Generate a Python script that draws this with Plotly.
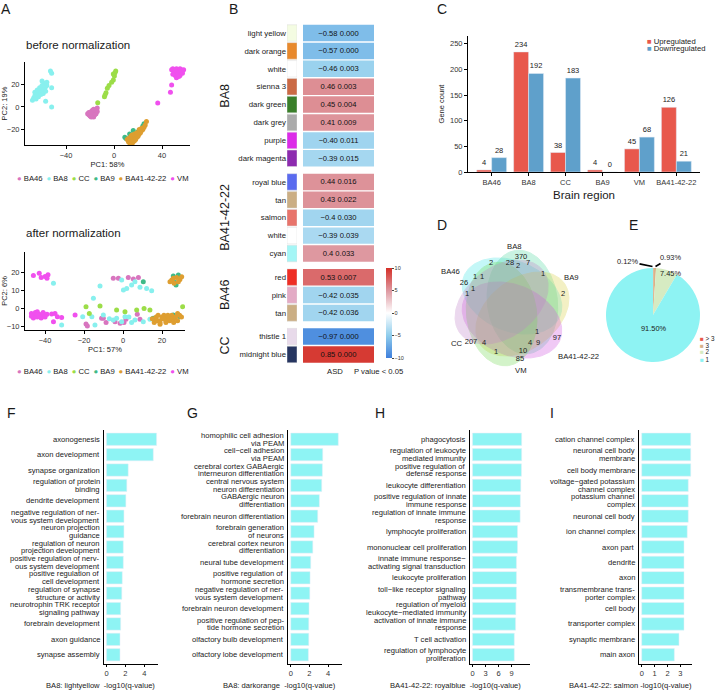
import numpy as np
import plotly.graph_objects as go

W, H = 718, 691
FONT = "Liberation Sans, Arial, Helvetica, sans-serif"
TXT = "#1a1a1a"
TICK = "#333333"


def fx(p):
    return p / W


def fy(p):
    return 1 - p / H


def xd(a, b):
    return [fx(a), fx(b)]


def yd(top, bottom):
    return [fy(bottom), fy(top)]


# ---------------- Panel A : PCA ----------------
pca_groups = ["BA46", "BA8", "CC", "BA9", "BA41-42-22", "VM"]
pca_colors = ["#D875BF", "#88F0EE", "#9CDD48", "#3FBA88", "#DE9E30", "#F050EE"]

before_BA46_x = [-21, -20, -19, -18, -17, -16, -15, -14, -20, -18, -17, -22, -19, -16, -15, -21, -18, -14, -19, -17]
before_BA46_y = [-5, -6, -7, -5, -6, -4, -3, -1, -8, -8, -9, -6, -4, -7, -6, -7, -3, -4, -9, -2]
before_BA8_x = [-68, -67, -66, -65, -64, -63, -62, -61, -60, -59, -58, -57, -56, -66, -64, -62, -60, -58, -65, -63,
                -61, -59, -57, -60, -56, -53, -52, -52, -52, -57]
before_BA8_y = [6, 8, 10, 9, 12, 11, 14, 13, 15, 16, 17, 18, 19, 13, 15, 17, 19, 21, 7, 9, 11, 12, 14, 23, 22, 32, 30,
                17, 0, 5]
before_CC_x = [-13.6, -8, -7.5, -6.7, -5.6, -4.2, -2, -0.6, 0.3, -0.6, 0.8, 1.4]
before_CC_y = [3.8, 9.2, 10.7, 12.7, 16.6, 19, 22, 24, 27.6, 29.3, 30.5, 32]
before_BA9_x = [9, 10, 12, 14, 18, 20, 24, 25, 13, 16]
before_BA9_y = [-27, -28, -29, -30, -25, -22, -17, -15, -24, -21]
before_BA41_x = [12, 13, 14, 15, 16, 14, 13, 15, 17, 18, 19, 20, 21, 22, 23, 24, 25, 26, 27, 16, 18, 20, 22, 12, 11, 15,
                 17, 19, 21, 23]
before_BA41_y = [-28, -30, -31, -29, -27, -26, -32, -33, -30, -28, -27, -25, -24, -22, -21, -20, -18, -16, -13, -31, -29,
                 -26, -23, -31, -29, -25, -24, -23, -20, -19]
before_VM_x = [48, 49, 50, 51, 52, 53, 54, 55, 56, 57, 50, 52, 54, 56, 51, 53, 55, 49, 57, 58, 52, 54, 48, 47, 36.4]
before_VM_y = [33, 34, 32, 33, 34, 33, 32, 34, 33, 32, 30, 31, 30, 31, 28, 29, 28, 29, 30, 33, 26, 27, 19.6, 13, 3.5]

after_BA46_x = [-5, -2.4, 2.7, 5.3, 7.9, -19, -18.3, -10.1, -8.7, -4.1, -1.5, 0.5, 1.5, 7.3, 8.7, -11]
after_BA46_y = [16.5, 16.5, 17, 16.1, 17, -8.9, -10, -5.7, -8.1, -7.6, -8.5, -8.1, -6.3, -3.5, -6.3, -5.7]
after_BA8_x = [-35.7, -11.8, -15.2, -16, -14.4, -31.5, -0.7, 0.2, 1.9, 4.4, 6.1, 8.7, 12.1, 14.7, -5, -3.3, -0.7, 1,
               4.4, 6.1, 10.4, 13.8, -10.1, -20.7, -7, 3]
after_BA8_y = [13.7, 12.2, 5.4, -4.8, -9.4, -9.4, 15.6, 10, 10.9, 12.8, 14.6, 11.5, 10.9, 9.6, -6.7, -5.7, -7.6, -4.8,
               -8.1, -6.7, -7.6, -6.3, -3.9, -4.8, -6, -5]
after_CC_x = [-19, -11.8, -3.3, 1, 7, 10.8, 13.8, 30.6, -17.3]
after_CC_y = [0.7, 1.1, -1.1, -2, -1.1, -0.2, -1.1, 0.7, -3]
after_BA9_x = [10.4, 25.8, 26.7, 28.4, 27.2, 15.5, 22.4, 25.8, 29.2]
after_BA9_y = [14.6, 17.8, 14.1, 18.3, 12.8, -5.7, -4.8, -3.9, -4.8]
after_BA41_x = [25, 25.8, 27.5, 29.2, 30.1, 26.2, 28.4, 24.1, 15, 16, 17, 18, 19, 20, 21, 22, 23, 24, 25, 26, 27, 28, 29,
                30, 18, 20, 22, 24, 26, 28, 17, 19, 21, 23]
after_BA41_y = [15.6, 16.5, 17, 15.9, 17.4, 13.7, 14.6, 14.6, -6, -8, -5, -7, -9, -6, -4, -8, -5, -7, -4, -6, -5, -7, -4,
                -5, -4, -5, -7, -6, -8, -3, -7, -8, -6, -4]
after_VM_x = [-47, -46, -45, -44, -43, -42, -41, -40, -39, -46, -44, -42, -40, -45, -43, -41, -47, -44, -46, -43, -42,
              -40, -39, -38.5, -36.6, -34.9, -33.7, -35.7, -31.5, -24.6]
after_VM_y = [-3, -4, -2.5, -5, -3.5, -4.5, -3, -4, -3.5, -5.5, -2, -5.5, -5, -4.5, -4.5, -2.5, -4.5, -3.5, 18, 19.3, 17,
              17.5, 16.5, 18.5, -3.3, -3, -4.8, -7.6, -5.2, -3.9]

before_pts = [(before_BA46_x, before_BA46_y), (before_BA8_x, before_BA8_y), (before_CC_x, before_CC_y),
              (before_BA9_x, before_BA9_y), (before_BA41_x, before_BA41_y), (before_VM_x, before_VM_y)]
after_pts = [(after_BA46_x, after_BA46_y), (after_BA8_x, after_BA8_y), (after_CC_x, after_CC_y),
             (after_BA9_x, after_BA9_y), (after_BA41_x, after_BA41_y), (after_VM_x, after_VM_y)]

# ---------------- Panel B : module table ----------------
module_names = ["light yellow", "dark orange", "white", "sienna 3", "dark green", "dark grey", "purple", "dark magenta",
                "royal blue", "tan", "salmon", "white", "cyan", "red", "pink", "tan", "thistle 1", "midnight blue"]
module_region = ["BA8"] * 8 + ["BA41-42-22"] * 5 + ["BA46"] * 3 + ["CC"] * 2
module_colors = ["#F4FCE2", "#E8892C", "#FFFFFF", "#CB6A45", "#3A7F2A", "#ABABAB", "#DC2BE8", "#8D2BAF", "#5A6BEF",
                 "#CBAE84", "#E8746B", "#FFFFFF", "#A4F6F6", "#EE2E24", "#E3ABC5", "#CBAE84", "#E8DAEA", "#263560"]
asd_labels = ["−0.58", "−0.57", "−0.46", "0.46", "0.45", "0.41", "−0.40", "−0.39", "0.44", "0.43", "−0.4", "−0.39",
              "0.4", "0.53", "−0.42", "−0.42", "−0.97", "0.85"]
p_labels = ["0.000", "0.000", "0.003", "0.003", "0.004", "0.009", "0.011", "0.015", "0.016", "0.022", "0.030", "0.039",
            "0.033", "0.007", "0.035", "0.036", "0.000", "0.000"]
color_score = [-6, -6, -4.5, 5.5, 5.5, 5.2, -4.3, -4, 5.3, 5.3, -4.2, -3.8, 5, 7.2, -4.2, -4.2, -9, 9.5]

# ---------------- Panel C : DE genes ----------------
c_regions = ["BA46", "BA8", "CC", "BA9", "VM", "BA41-42-22"]
c_up = [4, 234, 38, 4, 45, 126]
c_down = [28, 192, 183, 0, 68, 21]

# ---------------- Panel D : Venn ----------------
venn_sets = ["BA8", "BA9", "BA41-42-22", "VM", "CC", "BA46"]
venn_fill = ["#40E6E6", "#50D8A0", "#D8CF40", "#D050E0", "#70D850", "#C080C8"]
venn_counts = [370, 2, 28, 2, 7, 1, 2, 1, 1, 26, 1, 1, 1, 97, 4, 9, 10, 85, 207, 4, 1]
venn_count_pos = [(521, 257), (491, 263), (510, 263), (518, 266), (528, 263), (543, 274), (563, 294), (475, 277),
                  (482, 277), (464, 283), (473, 289), (467, 294), (537, 332), (557, 338), (530, 343), (538, 343),
                  (523, 351), (520, 359), (471, 342), (484, 343), (496, 352)]

# ---------------- Panel E : pie ----------------
pie_labels = ["> 3", "3", "2", "1"]
pie_values = [0.12, 0.93, 7.45, 91.50]
pie_colors = ["#E8574B", "#D9B28A", "#D6EBC2", "#8EF3F3"]

# ---------------- Panels F-I : GO enrichment ----------------
F_terms = ["axonogenesis", "axon development", "synapse organization", "regulation of protein<br>binding",
           "dendrite development", "negative regulation of ner-<br>vous system development",
           "neuron projection<br>guidance", "regulation of neuron<br>projection development",
           "positive regulation of nerv-<br>ous system development", "positive regulation of<br>cell development",
           "regulation of synapse<br>structure or activity", "neurotrophin TRK receptor<br>signaling pathway",
           "forebrain development", "axon guidance", "synapse assembly"]
F_vals = [5.3, 4.95, 2.3, 2.15, 2.05, 1.85, 1.85, 1.78, 1.78, 1.67, 1.62, 1.5, 1.5, 1.43, 1.43]
G_terms = ["homophilic cell adhesion<br>via PEAM", "cell−cell adhesion<br>via PEAM",
           "cerebral cortex GABAergic<br>interneuron differentiation", "central nervous system<br>neuron differentiation",
           "GABAergic neuron<br>differentiation", "forebrain neuron differentiation", "forebrain generation<br>of neurons",
           "cerebral cortex neuron<br>differentiation", "neural tube development",
           "positive regulation of<br>hormone secretion", "negative regulation of ner-<br>vous system development",
           "forebrain neuron development", "positive regulation of pep-<br>tide hormone secretion",
           "olfactory bulb development", "olfactory lobe development"]
G_vals = [5.1, 3.43, 3.39, 3.32, 3.07, 2.89, 2.5, 2.36, 2.14, 2.07, 2.04, 1.96, 1.93, 1.93, 1.89]
H_terms = ["phagocytosis", "regulation of leukocyte<br>mediated immunity", "positive regulation of<br>defense response",
           "leukocyte differentiation", "positive regulation of innate<br>immune response",
           "regulation of innate immune<br>response", "lymphocyte proliferation", "mononuclear cell proliferation",
           "innate immune response−<br>activating signal transduction", "leukocyte proliferation",
           "toll−like receptor signaling<br>pathway", "regulation of myeloid<br>leukocyte−mediated immunity",
           "activation of innate immune<br>response", "T cell activation", "regulation of lymphocyte<br>proliferation"]
H_vals = [11.35, 11.35, 11.3, 11.15, 11.05, 11.0, 10.4, 10.4, 10.15, 10.15, 10.15, 10.0, 9.95, 9.65, 9.65]
I_terms = ["cation channel complex", "neuronal cell body<br>membrane", "cell body membrane",
           "voltage−gated potassium<br>channel complex", "potassium channel<br>complex", "neuronal cell body",
           "ion channel complex", "axon part", "dendrite", "axon", "transmembrane trans-<br>porter complex", "cell body",
           "transporter complex", "synaptic membrane", "main axon"]
I_vals = [3.8, 3.8, 3.8, 3.61, 3.61, 3.61, 3.53, 3.28, 3.28, 3.28, 3.28, 3.28, 3.28, 2.89, 2.53]
go_titles = ["BA8: lightyellow\u00a0\u00a0-log10(q-value)", "BA8: darkorange\u00a0\u00a0-log10(q-value)",
             "BA41-42-22: royalblue\u00a0\u00a0-log10(q-value)", "BA41-42-22: salmon -log10(q-value)"]
GO_CYAN = "#8EF4F4"

# ======================================================================
fig = go.Figure()
annotations = []


def ann(text, x, y, size=7.7, xanchor="center", yanchor="middle", angle=0, xref="paper", yref="paper", **kw):
    a = dict(text=text, x=fx(x) if xref == "paper" else x, y=fy(y) if yref == "paper" else y, xref=xref, yref=yref,
             showarrow=False, xanchor=xanchor, yanchor=yanchor, textangle=angle,
             font=dict(family=FONT, size=size, color=TXT))
    a.update(kw)
    annotations.append(a)
    return a


def axis(domain, **kw):
    d = dict(domain=domain, showline=True, linecolor="black", linewidth=1, ticks="outside", ticklen=3, tickwidth=1,
             tickcolor="black", showgrid=False, zeroline=False, automargin=False,
             tickfont=dict(family=FONT, size=7.5, color=TICK))
    d.update(kw)
    return d


# ---- Panel A traces
for (gx, gy), col in zip(before_pts, pca_colors):
    fig.add_trace(go.Scatter(x=gx, y=gy, mode="markers", marker=dict(size=5, color=col), xaxis="x", yaxis="y",
                             showlegend=False, hoverinfo="skip"))
for (gx, gy), col in zip(after_pts, pca_colors):
    fig.add_trace(go.Scatter(x=gx, y=gy, mode="markers", marker=dict(size=5, color=col), xaxis="x2", yaxis="y2",
                             showlegend=False, hoverinfo="skip"))

legend_txt = "\u2002".join(f"<span style='color:{c}'>●</span> {g}" for g, c in zip(pca_groups, pca_colors))
ann(legend_txt, 103, 179, size=7.7)
ann(legend_txt, 103, 371, size=7.7)
ann("before normalization", 24, 45, size=11.5, xanchor="left")
ann("after normalization", 24, 233, size=11.5, xanchor="left")

# ---- Panel B traces
GAP = 0.32
row_pos = []
cur = 0.0
prev = None
for r in module_region:
    if prev is not None:
        cur += 1 + (GAP if r != prev else 0)
    row_pos.append(cur)
    prev = r
ROW_PX = 17.9
b_top = 33 - 0.5 * ROW_PX
b_bottom = b_top + (row_pos[-1] + 1) * ROW_PX

fig.add_trace(go.Bar(orientation="h", x=[1] * len(module_names), y=row_pos, base=0, width=0.92,
                     marker=dict(color=module_colors, line=dict(color="#dddddd", width=0.5)),
                     xaxis="x3", yaxis="y3", showlegend=False, hoverinfo="skip"))
cell_text = [f"{a} {p}" for a, p in zip(asd_labels, p_labels)]
fig.add_trace(go.Bar(orientation="h", x=[1] * len(module_names), y=row_pos, base=0, width=0.92,
                     marker=dict(color=color_score, cmin=-10, cmax=10,
                                 colorscale=[[0, "#3F7FDC"], [0.25, "#8FCDEC"], [0.5, "#FFFFFF"], [0.75, "#DE98A0"],
                                             [1, "#D52F27"]],
                                 line=dict(width=0),
                                 showscale=True,
                                 colorbar=dict(x=fx(386), xanchor="left", y=fy(313), yanchor="middle",
                                               lenmode="pixels", len=90, thickness=6, xpad=0, ypad=0,
                                               outlinewidth=0, tickvals=[-10, -5, 0, 5, 10], ticks="outside",
                                               ticklen=2, tickfont=dict(family=FONT, size=5.5, color=TICK))),
                     text=cell_text, textposition="inside", insidetextanchor="middle", textangle=0,
                     textfont=dict(family=FONT, size=7.6, color="#111"),
                     xaxis="x4", yaxis="y3", showlegend=False, hoverinfo="skip"))
for reg in ["BA8", "BA41-42-22", "BA46", "CC"]:
    ps = [p for p, r in zip(row_pos, module_region) if r == reg]
    a = ann(reg, 225, 0, size=12.5, angle=-90, yref="y3")
    a["y"] = float(np.mean(ps))
ann("ASD", 335, 372, size=7.7)
ann("P value < 0.05", 378, 372, size=7.7)

# ---- Panel C traces
C_RED, C_BLUE = "#E8584C", "#5FA0CB"
fig.add_trace(go.Bar(x=c_regions, y=c_up, name="Upregulated", marker_color=C_RED, text=c_up,
                     textposition="outside", cliponaxis=False, textfont=dict(family=FONT, size=7.5, color=TXT),
                     xaxis="x5", yaxis="y5", showlegend=False, hoverinfo="skip"))
fig.add_trace(go.Bar(x=c_regions, y=c_down, name="Downregulated", marker_color=C_BLUE, text=c_down,
                     textposition="outside", cliponaxis=False, textfont=dict(family=FONT, size=7.5, color=TXT),
                     xaxis="x5", yaxis="y5", showlegend=False, hoverinfo="skip"))
for i, (lab, col) in enumerate([("Upregulated", C_RED), ("Downregulated", C_BLUE)]):
    ann(f"<span style='color:{col}'>■</span> {lab}", 645, 41 + 8 * i, size=7.7, xanchor="left")

# ---- Panel D : Venn
cx0, cy0 = 512, 308
tt = np.linspace(0, 2 * np.pi, 160)
for k, (nm, col) in enumerate(zip(venn_sets, venn_fill)):
    d = np.deg2rad(-90 + 60 * k)
    ccx, ccy = cx0 + 12 * np.cos(d), cy0 + 12 * np.sin(d)
    rot = d + np.pi / 2 + 0.4
    ex, ey = 52 * np.cos(tt), 35 * np.sin(tt)
    X = ccx + ex * np.cos(rot) - ey * np.sin(rot)
    Y = ccy + ex * np.sin(rot) + ey * np.cos(rot)
    fig.add_trace(go.Scatter(x=X, y=Y, mode="lines", fill="toself", fillcolor=col, opacity=0.3,
                             line=dict(color=col, width=1), xaxis="x6", yaxis="y6", showlegend=False,
                             hoverinfo="skip"))
fig.add_trace(go.Scatter(x=[p[0] for p in venn_count_pos], y=[p[1] for p in venn_count_pos], mode="text",
                         text=[str(c) for c in venn_counts], textfont=dict(family=FONT, size=7.5, color="#222"),
                         xaxis="x6", yaxis="y6", showlegend=False, hoverinfo="skip"))
venn_label_pos = [(514, 246), (571, 277), (578, 357), (521, 370), (457, 343), (450, 271)]
for nm, (lx, ly) in zip(venn_sets, venn_label_pos):
    ann(nm, lx, ly, size=7.7)

# ---- Panel E : pie
fig.add_trace(go.Pie(labels=pie_labels, values=pie_values, sort=False, direction="clockwise", rotation=0,
                     marker=dict(colors=pie_colors, line=dict(width=0)), textinfo="none",
                     domain=dict(x=xd(606, 700), y=yd(268, 362)), showlegend=False, hoverinfo="skip"))
pct = [f"{v:.2f}%" for v in pie_values]
ann(pct[3], 653, 328, size=7.4)
ann(pct[2], 670, 273, size=7.4)
annotations.append(dict(text=pct[0], x=fx(652.5), y=fy(266.5), xref="paper", yref="paper", showarrow=True,
                        arrowhead=0, arrowwidth=1.6, arrowcolor="black", ax=-25, ay=-5,
                        font=dict(family=FONT, size=7.4, color=TXT)))
annotations.append(dict(text=pct[1], x=fx(655.5), y=fy(266.5), xref="paper", yref="paper", showarrow=True,
                        arrowhead=0, arrowwidth=1.6, arrowcolor="black", ax=15, ay=-9,
                        font=dict(family=FONT, size=7.4, color=TXT)))
for i, (lab, col) in enumerate(zip(pie_labels, pie_colors)):
    ann(f"<span style='color:{col}'>■</span> {lab}", 698, 338 + 7 * i, size=6.3, xanchor="left")

# ---- Panels F-I
GO_TOP, GO_BOT = 430, 664
go_panels = [(F_terms, F_vals, "x7", "y7", 104), (G_terms, G_vals, "x8", "y8", 288),
             (H_terms, H_vals, "x9", "y9", 470), (I_terms, I_vals, "x10", "y10", 639)]
for terms, vals, xa, ya, axis_x in go_panels:
    fig.add_trace(go.Bar(orientation="h", x=vals, y=list(range(len(terms))), width=0.8, marker_color=GO_CYAN,
                         xaxis=xa, yaxis=ya, showlegend=False, hoverinfo="skip"))
    px_per_unit = (GO_BOT - GO_TOP) / (len(terms) + 0.2)
    line_step = 7.7 / px_per_unit
    for i, term in enumerate(terms):
        lines = term.split("<br>")
        n = len(lines)
        for j, ln in enumerate(lines):
            a = ann(ln, axis_x - 3, 0, size=7.6, xanchor="right", yref=ya, borderpad=0)
            a["y"] = i + (j - (n - 1) / 2) * line_step
            a["font"]["color"] = "#222"
for t, cx in zip(go_titles, [100, 279, 456, 630]):
    ann(t, cx, 685, size=7.6)

# panel letters
for letter, (lx, ly) in zip("ABCDEFGHI", [(6, 9), (233, 9), (442, 9), (442, 225), (633, 225), (11, 413),
                                          (192, 413), (380, 413), (552, 413)]):
    ann(letter, lx, ly, size=14)

# ======================================================================
ttl = lambda s, st=2: dict(text=s, font=dict(family=FONT, size=7.5, color=TXT), standoff=st)
go_y = lambda dom, terms: axis(dom, range=[len(terms) - 0.4, -0.6], tickvals=list(range(len(terms))),
                                showticklabels=False, ticks="")

layout = dict(
    width=W, height=H, margin=dict(l=0, r=0, t=0, b=0), paper_bgcolor="white", plot_bgcolor="white",
    font=dict(family=FONT, color=TXT), barmode="group", bargap=0.19, bargroupgap=0, showlegend=False,
    # A top
    xaxis=axis(xd(25, 190), range=[-74.2, 63.3], tickvals=[-40, 0, 40], anchor="y", title=ttl("PC1: 58%")),
    yaxis=axis(yd(62, 145), range=[-33.8, 40], tickvals=[-20, 0, 20], anchor="x", title=ttl("PC2: 19%", 3)),
    # A bottom
    xaxis2=axis(xd(25, 185), range=[-50.3, 31.8], tickvals=[-40, -20, 0, 20], anchor="y2", title=ttl("PC1: 57%")),
    yaxis2=axis(yd(252, 330), range=[-12.2, 31.1], tickvals=[-10, 0, 10, 20], anchor="x2", title=ttl("PC2: 6%", 3)),
    # B
    xaxis3=dict(domain=xd(287, 297), range=[0, 1], visible=False, anchor="y3"),
    xaxis4=dict(domain=xd(303, 374), range=[0, 1], visible=False, anchor="y3"),
    yaxis3=dict(domain=yd(b_top, b_bottom), range=[row_pos[-1] + 0.5, -0.5], tickvals=row_pos,
                ticktext=module_names, showline=False, showgrid=False, zeroline=False, ticks="", anchor="x3",
                automargin=False, tickfont=dict(family=FONT, size=7.8, color="#222")),
    # C
    xaxis5=axis(xd(468, 700), range=[-0.64, 5.64], anchor="y5", type="category",
                title=dict(text="Brain region", font=dict(family=FONT, size=11.5, color=TXT), standoff=4)),
    yaxis5=axis(yd(36, 172), range=[0, 265], tickvals=[0, 50, 100, 150, 200, 250], anchor="x5",
                title=ttl("Gene count", 4)),
    # D
    xaxis6=dict(domain=xd(440, 595), range=[440, 595], visible=False, anchor="y6"),
    yaxis6=dict(domain=yd(240, 380), range=[380, 240], visible=False, anchor="x6"),
    # F-I
    xaxis7=axis(xd(104, 158), range=[-0.26, 5.45], tickvals=[0, 2, 4], ticklen=2, anchor="y7"),
    yaxis7=go_y(yd(GO_TOP, GO_BOT), F_terms) | dict(anchor="x7"),
    xaxis8=axis(xd(288, 342), range=[-0.3, 5.5], tickvals=[0, 2, 4], ticklen=2, anchor="y8"),
    yaxis8=go_y(yd(GO_TOP, GO_BOT), G_terms) | dict(anchor="x8"),
    xaxis9=axis(xd(470, 530), range=[-0.58, 13.28], tickvals=[0, 3, 6, 9], ticklen=2, anchor="y9"),
    yaxis9=go_y(yd(GO_TOP, GO_BOT), H_terms) | dict(anchor="x9"),
    xaxis10=axis(xd(639, 692), range=[-0.21, 3.9], tickvals=[0, 1, 2, 3], ticklen=2, anchor="y10"),
    yaxis10=go_y(yd(GO_TOP, GO_BOT), I_terms) | dict(anchor="x10"),
    annotations=annotations,
)
fig.update_layout(**layout)
fig.write_html("out.html", config={"displayModeBar": False, "staticPlot": True},
               post_script="document.body.style.margin='0';document.body.style.overflow='hidden';")
